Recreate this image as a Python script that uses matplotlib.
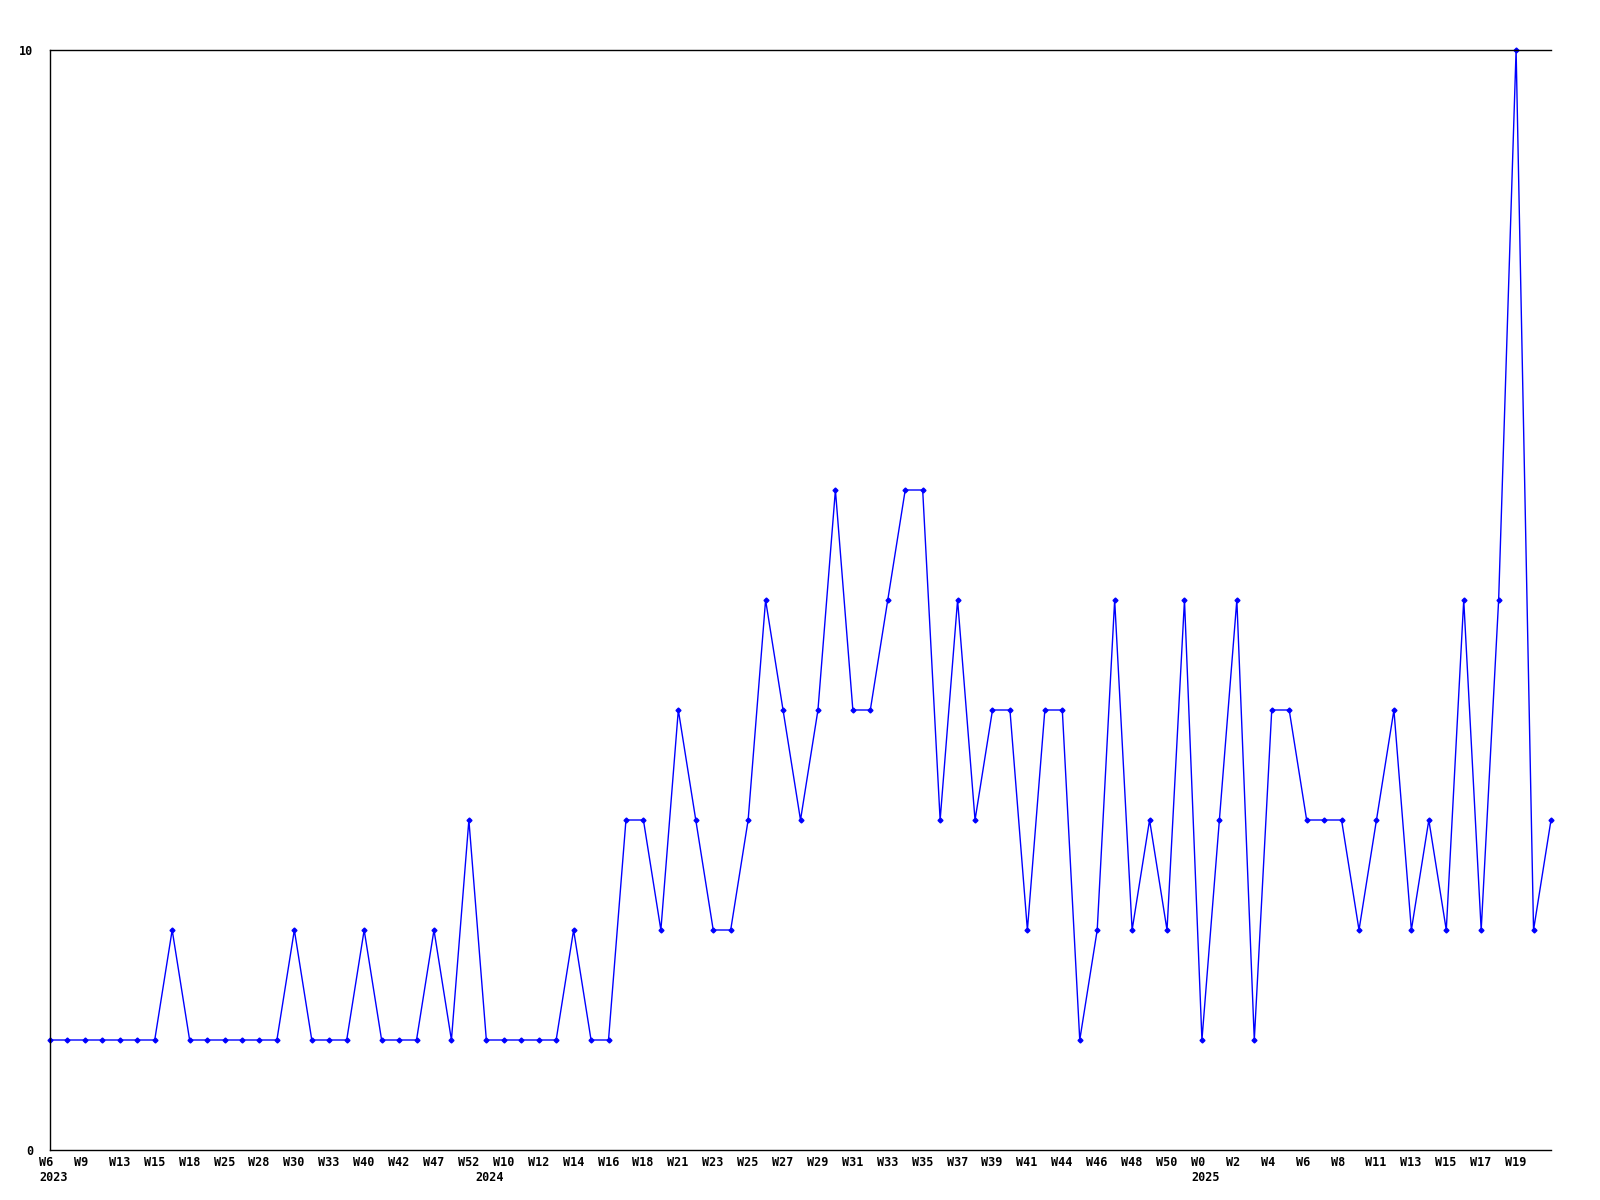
import matplotlib
matplotlib.use("Agg")
import matplotlib.pyplot as plt

# weekly counts, one value per point
values = [1, 1, 1, 1, 1, 1, 1, 2, 1, 1, 1, 1, 1, 1, 2, 1, 1, 1, 2, 1,
          1, 1, 2, 1, 3, 1, 1, 1, 1, 1, 2, 1, 1, 3, 3, 2, 4, 3, 2, 2,
          3, 5, 4, 3, 4, 6, 4, 4, 5, 6, 6, 3, 5, 3, 4, 4, 2, 4, 4, 1,
          2, 5, 2, 3, 2, 5, 1, 3, 5, 1, 4, 4, 3, 3, 3, 2, 3, 4, 2, 3,
          2, 5, 2, 5, 10, 2, 3]

# labels shown on every second point
week_labels = ["W6", "W9", "W13", "W15", "W18", "W25", "W28", "W30", "W33", "W40",
               "W42", "W47", "W52", "W10", "W12", "W14", "W16", "W18", "W21", "W23",
               "W25", "W27", "W29", "W31", "W33", "W35", "W37", "W39", "W41", "W44",
               "W46", "W48", "W50", "W0", "W2", "W4", "W6", "W8", "W11", "W13",
               "W15", "W17", "W19"]
year_points = [0, 25, 66]
year_labels = ["2023", "2024", "2025"]

fig = plt.figure(figsize=(16, 12), dpi=100)
ax = fig.add_axes([50 / 1600, 1 - 1150 / 1200, 1501 / 1600, 1100 / 1200])

x = list(range(len(values)))
ax.plot(x, values, color="#0000ff", linewidth=1, marker="D", markersize=2.5,
        clip_on=False)

ax.set_xlim(0, len(values) - 1)
ax.set_ylim(0, 10)
ax.spines["right"].set_visible(False)
for s in ["left", "top", "bottom"]:
    ax.spines[s].set_linewidth(1)
    ax.spines[s].set_color("black")

font = dict(family="DejaVu Sans Mono", fontweight="bold", fontsize=8.5)

ax.set_xticks([])
ax.set_yticks([0, 10])
ax.set_yticklabels(["0", "10"], **font)
ax.tick_params(axis="y", length=0, pad=12)

for i, lab in enumerate(week_labels):
    ax.annotate(lab, xy=(2 * i, 0), xycoords=("data", "axes fraction"),
                xytext=(-11, -6), textcoords="offset pixels",
                ha="left", va="top", **font)
for p, lab in zip(year_points, year_labels):
    ax.annotate(lab, xy=(p, 0), xycoords=("data", "axes fraction"),
                xytext=(-11, -21), textcoords="offset pixels",
                ha="left", va="top", **font)

fig.savefig("out.png", dpi=100)
